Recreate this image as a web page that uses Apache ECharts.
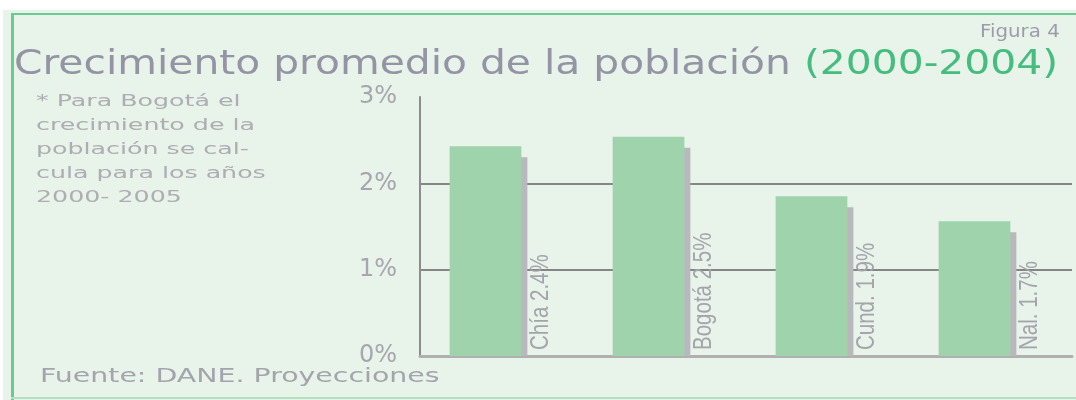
<!DOCTYPE html>
<html>
<head>
<meta charset="utf-8">
<script src="https://cdn.jsdelivr.net/npm/echarts@6/dist/echarts.min.js"></script>
<style>
    body { margin: 0; background: #ffffff; }
    .panel { position: absolute; left: 3px; top: 10px; width: 1073px; height: 390px; background: #e8f3ea; }
    .line-top { position: absolute; left: 11px; top: 13px; width: 1065px; height: 2px; background: #6acb92; }
    .line-left { position: absolute; left: 11px; top: 13px; width: 3px; height: 387px; background: #6acb92; }
    .line-bottom { position: absolute; left: 11px; top: 397px; width: 1065px; height: 2px; background: #b4e0c2; }
    #main { position: absolute; left: 0; top: 0; width: 1076px; height: 400px; }
</style>
</head>
<body>
<div class="panel"></div>
<div class="line-top"></div>
<div class="line-left"></div>
<div class="line-bottom"></div>
<div id="main"></div>
<script>
// datos de la figura
var categories = ['Chía', 'Bogotá', 'Cund.', 'Nal.'];
var growthValues = [2.43, 2.54, 1.85, 1.56];
var barLabels = ['Chía 2.4%', 'Bogotá 2.5%', 'Cund. 1.9%', 'Nal. 1.7%'];
var noteLines = ['* Para Bogotá el', 'crecimiento de la', 'población se cal-', 'cula para los años', '2000- 2005'];

var myChart = echarts.init(document.getElementById('main'));

var seriesData = [];
for (var i = 0; i < categories.length; i++) {
    seriesData.push([i, growthValues[i]]);
}

//barra con sombra gris y etiqueta vertical
function renderBar(params, api) {
    var idx = api.value(0);
    var base = api.coord([idx, 0]);
    var top = api.coord([idx, api.value(1)]);
    var w = api.size([1, 0])[0] * 0.44;
    var x = base[0] - w / 2 - 16;
    return {
        type: 'group',
        children: [{
            type: 'rect',
            shape: { x: x + 6, y: top[1] + 11, width: w, height: base[1] - top[1] - 11 },
            style: { fill: '#b9b9bd' }
        }, {
            type: 'rect',
            shape: { x: x, y: top[1], width: w, height: base[1] - top[1] },
            style: { fill: '#9fd3ab' }
        }, {
            type: 'text',
            x: x + w + 7,
            y: base[1] - 6,
            rotation: Math.PI / 2,
            scaleX: 0.82,
            style: {
                text: barLabels[idx],
                fill: '#a4a4ac',
                fontFamily: 'Liberation Sans',
                fontSize: 25,
                align: 'left',
                verticalAlign: 'top'
            }
        }]
    };
}

var option = {
    animation: false,
    grid: {
        left: 420,
        right: 4,
        top: 97,
        bottom: 44
    },
    xAxis: {
        type: 'category',
        data: categories,
        axisLine: { show: true, lineStyle: { color: '#b0b0b0', width: 3 } },
        axisTick: { show: false },
        axisLabel: { show: false }
    },
    yAxis: {
        type: 'value',
        min: 0,
        max: 3,
        interval: 1,
        axisLine: { show: true, lineStyle: { color: '#8c8c8c', width: 2 } },
        axisTick: { show: false },
        axisLabel: {
            formatter: '{value}%',
            color: '#a6a6ae',
            fontFamily: 'DejaVu Sans',
            fontSize: 24,
            margin: 23
        },
        splitLine: {
            show: true,
            lineStyle: { color: ['#b0b0b0', '#858585', '#858585', 'rgba(0,0,0,0)'], width: 2 }
        }
    },
    graphic: [{
        type: 'text',
        left: 14,
        top: 48,
        scaleX: 1.2,
        style: {
            text: '{a|Crecimiento promedio de la población }{b|(2000-2004)}',
            rich: {
                a: { fill: '#9494a4', fontFamily: 'DejaVu Sans', fontSize: 34 },
                b: { fill: '#45bd7e', fontFamily: 'DejaVu Sans', fontSize: 34 }
            }
        }
    }, {
        type: 'text',
        left: 980,
        top: 23,
        scaleX: 1.1,
        style: {
            text: 'Figura 4',
            fill: '#9c9caa',
            fontFamily: 'DejaVu Sans',
            fontSize: 18
        }
    }, {
        type: 'text',
        left: 36,
        top: 90,
        scaleX: 1.58,
        style: {
            text: noteLines.join('\n'),
            fill: '#adadb3',
            fontFamily: 'DejaVu Sans',
            fontSize: 16,
            lineHeight: 24
        }
    }, {
        type: 'text',
        left: 40,
        top: 367,
        scaleX: 1.42,
        style: {
            text: 'Fuente: DANE. Proyecciones',
            fill: '#a4a4ac',
            fontFamily: 'DejaVu Sans',
            fontSize: 20
        }
    }],
    series: [{
        type: 'custom',
        renderItem: renderBar,
        data: seriesData
    }]
};
myChart.setOption(option);
</script>
</body>
</html>
